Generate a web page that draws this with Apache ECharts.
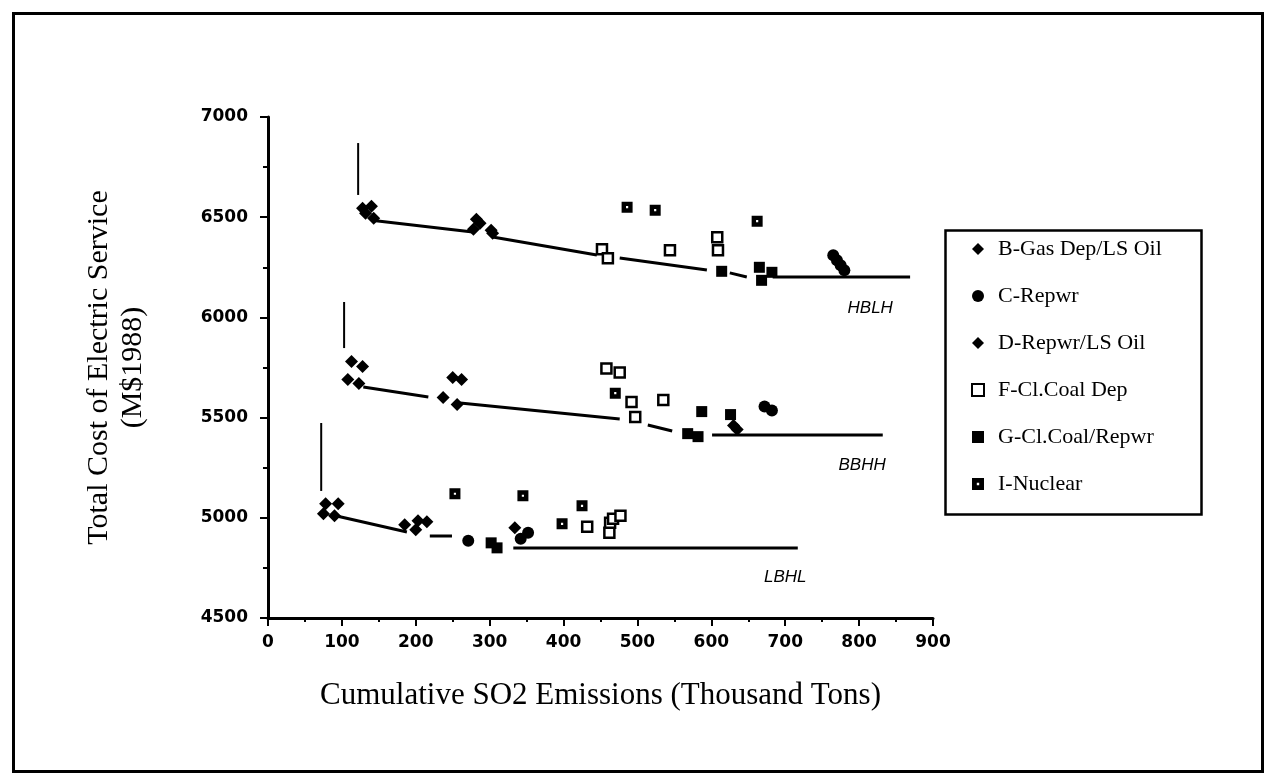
<!DOCTYPE html>
<html>
<head>
<meta charset="utf-8">
<script src="https://cdn.jsdelivr.net/npm/echarts@6/dist/echarts.min.js"></script>
<style>
  html, body { margin: 0; padding: 0; background: #fff; }
  #chart { width: 1269px; height: 781px; }
</style>
</head>
<body>
<div id="chart"></div>
<script>
// axis ticks
var xTicks = [0, 100, 200, 300, 400, 500, 600, 700, 800, 900];
var yTicks = [4500, 5000, 5500, 6000, 6500, 7000];

// scenario points [SO2 emissions, cost]
var bGasDep = [[128,6545],[140,6555],[282,6490],[287,6470],[113,5780],[128,5755],[250,5700],[262,5690],[78,5070],[95,5070],[203,4985],[215,4980]];
var cRepwr = [[765,6310],[770,6285],[775,6260],[780,6235],[672,5555],[682,5535],[271,4885],[342,4895],[352,4925]];
var dRepwrLsOil = [[132,6520],[143,6495],[278,6440],[302,6435],[304,6420],[108,5690],[123,5670],[237,5600],[256,5565],[630,5460],[635,5440],[75,5020],[90,5010],[185,4965],[200,4940],[334,4950]];
var fClCoalDep = [[452,6340],[460,6295],[544,6335],[608,6400],[609,6335],[458,5745],[476,5725],[492,5578],[497,5503],[535,5588],[432,4955],[462,4925],[463,4975],[467,4995],[477,5010]];
var gClCoalRepwr = [[614,6230],[665,6250],[668,6185],[682,6225],[587,5530],[568,5420],[582,5405],[626,5515],[302,4875],[310,4850]];
var iNuclear = [[486,6550],[524,6535],[662,6480],[470,5622],[253,5120],[345,5110],[425,5060],[398,4970]];

// tradeoff frontiers, one list of segments per case
var hblhFrontier = [[[122,6870],[122,6611]], [[140,6485],[277,6426]], [[304,6401],[445,6311]], [[476,6296],[594,6237]], [[625,6222],[648,6202]], [[683,6202],[869,6202]]];
var bbhhFrontier = [[[103,6077],[103,5847]], [[129,5653],[217,5603]], [[260,5573],[476,5493]], [[514,5463],[547,5433]], [[601,5413],[832,5413]]];
var lbhlFrontier = [[[72,5473],[72,5134]], [[87,5014],[188,4929]], [[219,4909],[249,4909]], [[332,4849],[717,4849]]];

var caseLabels = [[815,6045,'HBLH'],[804,5260,'BBHH'],[700,4705,'LBHL']];

var nuclearIcon = 'path://M0,0L10,0L10,10L0,10Z M4,4L4,6L6,6L6,4Z';

var chart = echarts.init(document.getElementById('chart'));

var solid = { color: '#000', opacity: 1 };

var series = [
  { name: 'B-Gas Dep/LS Oil', type: 'scatter', symbol: 'diamond', symbolSize: 13, data: bGasDep, itemStyle: solid },
  { name: 'C-Repwr', type: 'scatter', symbol: 'circle', symbolSize: 12, data: cRepwr, itemStyle: solid },
  { name: 'D-Repwr/LS Oil', type: 'scatter', symbol: 'diamond', symbolSize: 13, data: dRepwrLsOil, itemStyle: solid },
  { name: 'F-Cl.Coal Dep', type: 'scatter', symbol: 'rect', symbolSize: 10, data: fClCoalDep,
    itemStyle: { color: '#fff', borderColor: '#000', borderWidth: 2.5, opacity: 1 } },
  { name: 'G-Cl.Coal/Repwr', type: 'scatter', symbol: 'rect', symbolSize: 11, data: gClCoalRepwr, itemStyle: solid },
  { name: 'I-Nuclear', type: 'scatter', symbol: nuclearIcon, symbolSize: 11, data: iNuclear, itemStyle: solid }
];

[hblhFrontier, bbhhFrontier, lbhlFrontier].forEach(function (segs) {
  segs.forEach(function (seg, i) {
    series.push({
      type: 'line', data: seg, symbol: 'none', silent: true, z: 1,
      lineStyle: { color: '#000', width: i === 0 ? 2 : 3 }
    });
  });
});

series.push({
  type: 'scatter', symbolSize: 0, silent: true,
  data: caseLabels,
  itemStyle: solid,
  label: {
    show: true, position: 'inside',
    formatter: function (p) { return p.data[2]; },
    fontFamily: 'Liberation Sans', fontStyle: 'italic', fontSize: 17, color: '#000'
  }
});

var option = {
  animation: false,
  backgroundColor: '#fff',
  grid: { left: 268, right: 336, top: 117, bottom: 163 },
  xAxis: {
    type: 'value', min: 0, max: 900, interval: 100,
    name: 'Cumulative SO2 Emissions (Thousand Tons)',
    nameLocation: 'middle', nameGap: 62,
    nameTextStyle: { fontFamily: 'Liberation Serif', fontSize: 31, color: '#000' },
    axisLine: { lineStyle: { color: '#000', width: 3 } },
    axisTick: { show: true, length: 8, lineStyle: { color: '#000', width: 2 } },
    minorTick: { show: true, splitNumber: 2, length: 4, lineStyle: { color: '#000', width: 2 } },
    splitLine: { show: false },
    axisLabel: { margin: 16, color: '#000', fontFamily: 'DejaVu Sans', fontWeight: 'bold', fontSize: 17,
      formatter: function (v) { return xTicks.indexOf(v) >= 0 ? String(v) : ''; } }
  },
  yAxis: {
    type: 'value', min: 4500, max: 7000, interval: 500,
    name: 'Total Cost of Electric Service\n(M$1988)',
    nameLocation: 'middle', nameGap: 118, nameRotate: 90,
    nameTextStyle: { fontFamily: 'Liberation Serif', fontSize: 30, lineHeight: 34, color: '#000', align: 'center' },
    axisLine: { show: true, lineStyle: { color: '#000', width: 3 } },
    axisTick: { show: true, length: 8, lineStyle: { color: '#000', width: 2 } },
    minorTick: { show: true, splitNumber: 2, length: 5, lineStyle: { color: '#000', width: 2 } },
    splitLine: { show: false },
    axisLabel: { margin: 20, color: '#000', fontFamily: 'DejaVu Sans', fontWeight: 'bold', fontSize: 17,
      formatter: function (v) { return yTicks.indexOf(v) >= 0 ? String(v) : ''; } }
  },
  legend: {
    orient: 'vertical', left: 966, top: 233,
    itemWidth: 12, itemHeight: 12, itemGap: 25,
    data: ['B-Gas Dep/LS Oil', 'C-Repwr', 'D-Repwr/LS Oil', 'F-Cl.Coal Dep', 'G-Cl.Coal/Repwr', 'I-Nuclear'],
    textStyle: { fontFamily: 'Liberation Serif', fontSize: 22, color: '#000', padding: [0, 0, 0, 9] }
  },
  graphic: [
    { type: 'rect', left: 11, top: 11, silent: true,
      shape: { width: 1249, height: 758 },
      style: { fill: 'none', stroke: '#000', lineWidth: 3 } },
    { type: 'rect', left: 943, top: 228, silent: true,
      shape: { width: 256, height: 284 },
      style: { fill: 'none', stroke: '#000', lineWidth: 2.5 } }
  ],
  series: series
};

chart.setOption(option);
</script>
</body>
</html>
